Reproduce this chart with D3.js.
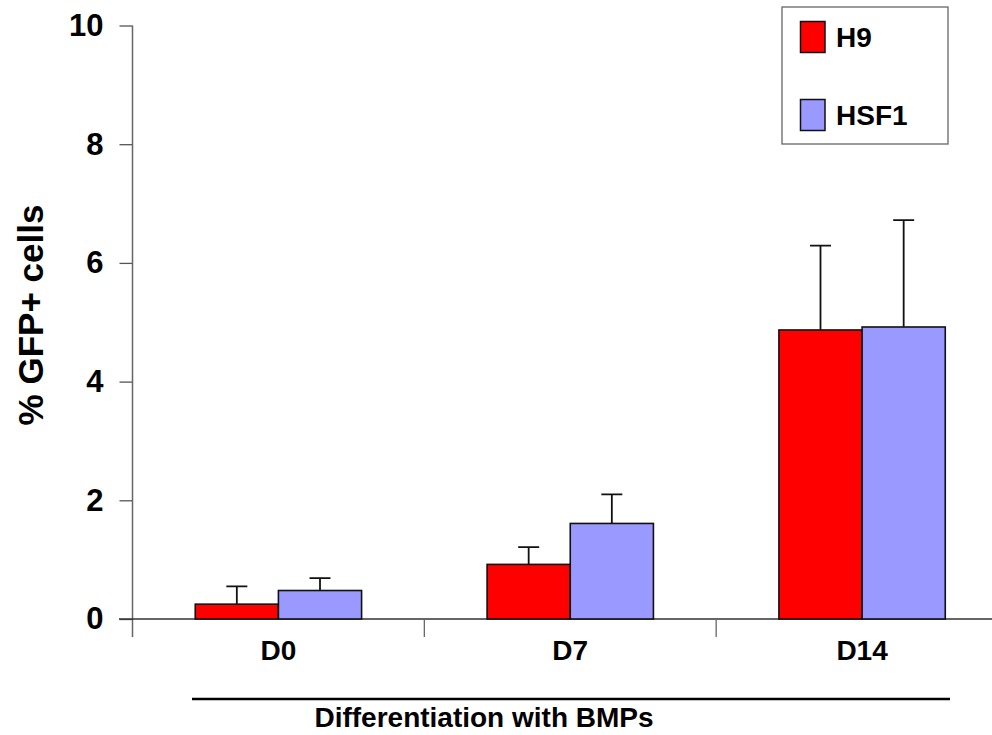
<!DOCTYPE html>
<html>
<head>
<meta charset="utf-8">
<script src="https://cdn.jsdelivr.net/npm/d3@7"></script>
<style>
  body { margin: 0; background: #fff; }
  svg { display: block; font-family: "Liberation Sans", Arial, sans-serif; font-weight: bold; }
</style>
</head>
<body>
<svg id="chart" width="992" height="735"></svg>
<script>
// chart data
const categories = ["D0", "D7", "D14"];
const seriesNames = ["H9", "HSF1"];
const seriesColors = ["#ff0000", "#9999ff"];
const h9Values = [0.25, 0.92, 4.87];
const h9Errors = [0.30, 0.29, 1.42];
const hsf1Values = [0.48, 1.61, 4.92];
const hsf1Errors = [0.21, 0.49, 1.80];
const yTicks = [0, 2, 4, 6, 8, 10];

const svg = d3.select("#chart");

// scales
const y = d3.scaleLinear().domain([0, 10]).range([619, 25.5]);
const x = d3.scaleBand().domain(categories).range([132.5, 1008]);
const groupWidth = x.bandwidth() * 0.57;
const xSub = d3.scaleBand().domain(seriesNames).range([0, groupWidth]);

const rows = categories.map((c, i) => ({
    cat: c,
    items: [
        { name: "H9", value: h9Values[i], err: h9Errors[i], color: seriesColors[0] },
        { name: "HSF1", value: hsf1Values[i], err: hsf1Errors[i], color: seriesColors[1] }
    ]
}));

// y axis
const yAxis = d3.axisLeft(y).tickValues(yTicks).tickSize(13).tickPadding(16).tickFormat(d3.format("d"));
const yG = svg.append("g").attr("transform", "translate(132.5,0)").call(yAxis);
yG.select(".domain").remove();
yG.selectAll(".tick line").attr("stroke", "#555").attr("stroke-width", 1.3);
yG.selectAll(".tick text").attr("font-size", 31).attr("font-family", "Liberation Sans, Arial, sans-serif")
    .attr("font-weight", "bold").attr("fill", "#000");
svg.append("line")
    .attr("x1", 132.5).attr("x2", 132.5)
    .attr("y1", y(10)).attr("y2", 637)
    .attr("stroke", "#666").attr("stroke-width", 1.5);

// x axis
svg.append("line")
    .attr("x1", 119).attr("x2", 992)
    .attr("y1", y(0)).attr("y2", y(0))
    .attr("stroke", "#333").attr("stroke-width", 1.3);
svg.selectAll(".xtick")
    .data(categories.slice(1))
    .enter().append("line")
    .attr("class", "xtick")
    .attr("x1", d => x(d)).attr("x2", d => x(d))
    .attr("y1", y(0)).attr("y2", 637)
    .attr("stroke", "#666").attr("stroke-width", 1.3);
svg.selectAll(".xlabel")
    .data(categories)
    .enter().append("text")
    .attr("class", "xlabel")
    .attr("x", d => x(d) + x.bandwidth() / 2)
    .attr("y", 660)
    .attr("text-anchor", "middle")
    .attr("font-size", 28)
    .text(d => d);

// bars
const groups = svg.selectAll(".group")
    .data(rows)
    .enter().append("g")
    .attr("class", "group")
    .attr("transform", d => `translate(${x(d.cat) + (x.bandwidth() - groupWidth) / 2},0)`);

// error bars (drawn under bars so the stem starts at bar top)
groups.selectAll(".err")
    .data(d => d.items)
    .enter().append("path")
    .attr("class", "err")
    .attr("d", d => {
        const cx = xSub(d.name) + xSub.bandwidth() / 2;
        const top = y(d.value + d.err);
        return `M${cx},${y(d.value)}V${top}M${cx - 10.5},${top}H${cx + 10.5}`;
    })
    .attr("fill", "none")
    .attr("stroke", "#111")
    .attr("stroke-width", 1.8);

groups.selectAll(".bar")
    .data(d => d.items)
    .enter().append("rect")
    .attr("class", "bar")
    .attr("x", d => xSub(d.name))
    .attr("width", xSub.bandwidth())
    .attr("y", d => y(d.value))
    .attr("height", d => y(0) - y(d.value))
    .attr("fill", d => d.color)
    .attr("stroke", "#111")
    .attr("stroke-width", 1.6);

// y axis title
svg.append("text")
    .attr("transform", "translate(43,315) rotate(-90)")
    .attr("text-anchor", "middle")
    .attr("font-size", 35)
    .text("% GFP+ cells");

// x axis title with line above
svg.append("line")
    .attr("x1", 192).attr("x2", 950)
    .attr("y1", 699).attr("y2", 699)
    .attr("stroke", "#000").attr("stroke-width", 2.5);
svg.append("text")
    .attr("x", 484).attr("y", 727)
    .attr("text-anchor", "middle")
    .attr("font-size", 28)
    .text("Differentiation with BMPs");

// legend
const legend = svg.append("g");
legend.append("rect")
    .attr("x", 782).attr("y", 7)
    .attr("width", 166).attr("height", 137)
    .attr("fill", "#fff")
    .attr("stroke", "#666").attr("stroke-width", 1.3);
const legendItems = legend.selectAll(".litem")
    .data(seriesNames)
    .enter().append("g")
    .attr("class", "litem")
    .attr("transform", (d, i) => `translate(0,${i * 78})`);
legendItems.append("rect")
    .attr("x", 800.5).attr("y", 21.5)
    .attr("width", 24.5).attr("height", 31)
    .attr("fill", (d, i) => seriesColors[i])
    .attr("stroke", "#111").attr("stroke-width", 1.5);
legendItems.append("text")
    .attr("x", 836).attr("y", 47)
    .attr("font-size", 28)
    .text(d => d);
</script>
</body>
</html>
